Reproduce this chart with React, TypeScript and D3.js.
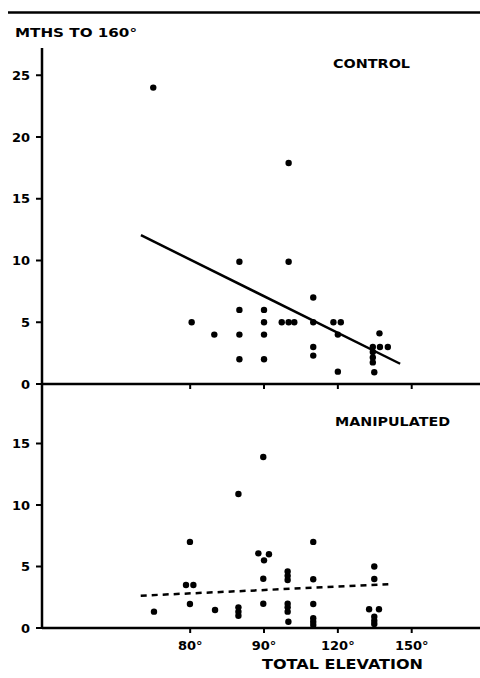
import * as d3 from 'd3'

// control group: total elevation (deg) vs months to 160 deg
const controlX = [45, 100, 80, 100, 110, 80, 90, 60.6, 90, 97.2, 100, 102.3, 110, 118.2, 121.2, 69.8, 80, 90, 120, 136.9, 110, 110, 134.2, 137.1, 140.3, 80, 90, 134.2, 134.2, 134.2, 120, 134.8]
const controlY = [24, 17.9, 9.9, 9.9, 7, 6, 6, 5, 5, 5, 5, 5, 5, 5, 5, 4, 4, 4, 4, 4.1, 3, 2.3, 3, 3, 3, 2, 2, 2.6, 2.15, 1.75, 1, 0.95]

// manipulated group
const manipX = [45.3, 59.9, 58.3, 61.3, 59.9, 70.1, 79.6, 79.6, 79.6, 79.6, 89.7, 87.7, 90, 92, 89.7, 89.7, 99.6, 99.6, 99.6, 99.6, 99.6, 99.6, 99.9, 110, 110, 110, 110, 110, 110, 134.8, 134.8, 132.7, 136.7, 134.8, 134.8, 134.8]
const manipY = [1.33, 7, 3.5, 3.5, 1.95, 1.46, 1.68, 1.33, 1, 10.9, 13.9, 6.07, 5.5, 6, 4, 1.97, 4.6, 4.24, 3.9, 1.97, 1.68, 1.33, 0.51, 7, 3.96, 1.95, 0.79, 0.51, 0.24, 5, 3.98, 1.52, 1.52, 0.92, 0.59, 0.33]

// fitted lines (end points)
const controlFitX = [40, 145.3]
const controlFitY = [12.05, 1.64]
const manipFitX = [39.9, 140.5]
const manipFitY = [2.63, 3.55]

const xTicks = [60, 90, 120, 150]
const xTickLabels = ['80°', '90°', '120°', '150°']
const topYTicks = [0, 5, 10, 15, 20, 25]
const botYTicks = [0, 5, 10, 15]

const W = 480
const H = 678
const FONT = 'DejaVu Sans, sans-serif'

export default function App() {
  const x = d3.scaleLinear().domain([0, 150]).range([42.5, 411.7])
  const yTop = d3.scaleLinear().domain([0, 25]).range([384, 384 - 25 * 12.35])
  const yBot = d3.scaleLinear().domain([0, 15]).range([628, 628 - 15 * 12.3])

  const axisX = 42
  const lineTop = d3.line<number>().x((d, i) => x(controlFitX[i])).y(d => yTop(d))
  const lineBot = d3.line<number>().x((d, i) => x(manipFitX[i])).y(d => yBot(d))

  const yTicks = (ticks: number[], y: d3.ScaleLinear<number, number>, key: string) =>
    ticks.map(t => (
      <g key={key + t}>
        <line x1={axisX - 6} x2={axisX} y1={y(t)} y2={y(t)} stroke="#000" strokeWidth={2} />
        <text x={30} y={y(t) + 4.5} textAnchor="end" fontSize={13} fontWeight="bold" fontFamily={FONT}>{t}</text>
      </g>
    ))

  const xTickMarks = (y0: number, key: string) =>
    xTicks.map(t => (
      <line key={key + t} x1={x(t)} x2={x(t)} y1={y0} y2={y0 + 5} stroke="#000" strokeWidth={2} />
    ))

  return (
    <div style={{ position: 'absolute', left: 0, top: 0 }}>
      <svg width={W} height={H} style={{ display: 'block', background: '#fff' }}>
        {/* top rule */}
        <line x1={8} x2={480} y1={12.5} y2={12.5} stroke="#000" strokeWidth={2.5} />

        <text x={15} y={37} fontSize={12} fontWeight="bold" fontFamily={FONT} textLength={122} lengthAdjust="spacingAndGlyphs">MTHS TO 160°</text>
        <text x={333} y={68} fontSize={12} fontWeight="bold" fontFamily={FONT} textLength={77} lengthAdjust="spacingAndGlyphs">CONTROL</text>
        <text x={335} y={426} fontSize={12} fontWeight="bold" fontFamily={FONT} textLength={115} lengthAdjust="spacingAndGlyphs">MANIPULATED</text>

        {/* axes */}
        <line x1={axisX} x2={axisX} y1={48} y2={629} stroke="#000" strokeWidth={2.5} />
        <line x1={axisX} x2={480} y1={384} y2={384} stroke="#000" strokeWidth={2.5} />
        <line x1={axisX} x2={480} y1={628} y2={628} stroke="#000" strokeWidth={2.5} />

        {yTicks(topYTicks, yTop, 't')}
        {yTicks(botYTicks, yBot, 'b')}
        {xTickMarks(384, 'xt')}
        {xTickMarks(628, 'xb')}

        {xTicks.map((t, i) => (
          <text key={'xl' + t} x={x(t)} y={650} textAnchor="middle" fontSize={13} fontWeight="bold" fontFamily={FONT}>{xTickLabels[i]}</text>
        ))}
        <text x={262} y={669} fontSize={14} fontWeight="bold" fontFamily={FONT} textLength={161} lengthAdjust="spacingAndGlyphs">TOTAL ELEVATION</text>

        {/* fitted lines */}
        <path d={lineTop(controlFitY) ?? ''} fill="none" stroke="#000" strokeWidth={2.5} />
        <path d={lineBot(manipFitY) ?? ''} fill="none" stroke="#000" strokeWidth={2.5} strokeDasharray="6 5" />

        {/* points */}
        {controlX.map((v, i) => (
          <circle key={'c' + i} cx={x(v)} cy={yTop(controlY[i])} r={3.2} fill="#000" />
        ))}
        {manipX.map((v, i) => (
          <circle key={'m' + i} cx={x(v)} cy={yBot(manipY[i])} r={3.2} fill="#000" />
        ))}
      </svg>
    </div>
  )
}
